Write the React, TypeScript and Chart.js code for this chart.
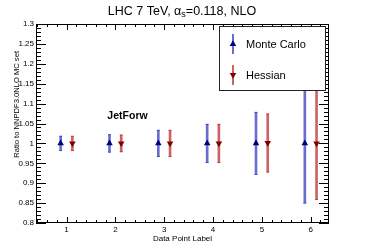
import React, { useEffect, useRef } from 'react';
import { Chart, registerables } from 'chart.js';

Chart.register(...registerables);

const categories = [1, 2, 3, 4, 5, 6];
const mcCentral = [1.0, 1.0, 1.0, 1.0, 1.0, 1.0];
const mcError = [0.018, 0.022, 0.033, 0.048, 0.078, 0.15];
const hessCentral = [1.0, 1.0, 1.0, 1.0, 1.001, 1.0];
const hessError = [0.018, 0.021, 0.033, 0.048, 0.073, 0.141];
const xTickValues = [1, 2, 3, 4, 5, 6];
const yTickValues = [0.8, 0.85, 0.9, 0.95, 1.0, 1.05, 1.1, 1.15, 1.2, 1.25, 1.3];
const yTickLabels = ['0.8', '0.85', '0.9', '0.95', '1', '1.05', '1.1', '1.15', '1.2', '1.25', '1.3'];
const seriesNames = ['Monte Carlo', 'Hessian'];
const titleParts = ['LHC 7 TeV, \u03b1', 's', '=0.118, NLO'];
const yAxisTitle = 'Ratio to NNPDF3.0NLO MC set';
const xAxisTitle = 'Data Point Label';
const setLabel = 'JetForw';

const X_MIN = 0.375;
const X_MAX = 6.375;
const Y_MIN = 0.8;
const Y_MAX = 1.3;
const OFFSET = 0.12;
const FONT = '"Liberation Sans", Arial, Helvetica, sans-serif';

const BLUE_BAR = 'rgba(50,50,190,0.72)';
const BLUE_MARK = '#000080';
const RED_BAR = 'rgba(185,40,40,0.72)';
const RED_MARK = '#800000';

function drawTri(ctx: CanvasRenderingContext2D, x: number, y: number, r: number, down: boolean, color: string) {
  ctx.save();
  ctx.fillStyle = color;
  ctx.beginPath();
  const s = down ? -1 : 1;
  ctx.moveTo(x, y - s * r);
  ctx.lineTo(x - r * 0.866, y + s * r * 0.5);
  ctx.lineTo(x + r * 0.866, y + s * r * 0.5);
  ctx.closePath();
  ctx.fill();
  ctx.restore();
}

const decorPlugin = {
  id: 'decor',
  afterDraw(chart: any) {
    const ctx: CanvasRenderingContext2D = chart.ctx;
    const xs = chart.scales.x;
    const ys = chart.scales.y;
    const { left, right, top, bottom } = chart.chartArea;
    ctx.save();
    ctx.strokeStyle = '#000';
    ctx.lineWidth = 1;
    ctx.strokeRect(left + 0.5, top + 0.5, right - left - 1, bottom - top - 1);
    const yStep = (yTickValues[1] - yTickValues[0]) / 5;
    const nY = Math.round((Y_MAX - Y_MIN) / yStep);
    ctx.beginPath();
    for (let k = 0; k <= nY; k++) {
      const v = Y_MIN + k * yStep;
      const py = Math.round(ys.getPixelForValue(v)) + 0.5;
      const len = k % 5 === 0 ? 10 : 5;
      ctx.moveTo(left, py);
      ctx.lineTo(left + len, py);
      ctx.moveTo(right, py);
      ctx.lineTo(right - len, py);
    }
    const xStep = 0.2;
    for (let v = Math.ceil(X_MIN / xStep) * xStep; v <= X_MAX + 1e-9; v += xStep) {
      const px = Math.round(xs.getPixelForValue(v)) + 0.5;
      const isMajor = Math.abs(v - Math.round(v)) < 1e-6;
      const len = isMajor ? 6 : 3;
      ctx.moveTo(px, bottom);
      ctx.lineTo(px, bottom - len);
      ctx.moveTo(px, top);
      ctx.lineTo(px, top + len);
    }
    ctx.stroke();

    ctx.fillStyle = '#000';
    ctx.textBaseline = 'alphabetic';
    const big = `12.5px ${FONT}`;
    const small = `9px ${FONT}`;
    ctx.font = big;
    const w0 = ctx.measureText(titleParts[0]).width;
    const w2 = ctx.measureText(titleParts[2]).width;
    ctx.font = small;
    const w1 = ctx.measureText(titleParts[1]).width;
    let tx = 182 - (w0 + w1 + w2) / 2;
    ctx.font = big;
    ctx.textAlign = 'left';
    ctx.fillText(titleParts[0], tx, 14.5);
    tx += w0;
    ctx.font = small;
    ctx.fillText(titleParts[1], tx, 17);
    tx += w1;
    ctx.font = big;
    ctx.fillText(titleParts[2], tx, 14.5);

    ctx.font = `8px ${FONT}`;
    ctx.textAlign = 'center';
    ctx.textBaseline = 'middle';
    ctx.fillText(xAxisTitle, (left + right) / 2, 238.5);

    ctx.save();
    ctx.translate(17, 51);
    ctx.rotate(-Math.PI / 2);
    ctx.font = `7.6px ${FONT}`;
    ctx.textAlign = 'right';
    ctx.textBaseline = 'middle';
    ctx.fillText(yAxisTitle, 0, 0);
    ctx.restore();

    ctx.font = `bold 10.5px ${FONT}`;
    ctx.textAlign = 'center';
    ctx.textBaseline = 'middle';
    ctx.fillText(setLabel, 127.5, 116.5);

    const lx = 219, ly = 26, lw = 107, lh = 65;
    ctx.fillStyle = '#fff';
    ctx.fillRect(lx, ly, lw, lh);
    ctx.strokeStyle = '#222';
    ctx.strokeRect(lx + 0.5, ly + 0.5, lw - 1, lh - 1);
    const rows = [
      { name: seriesNames[0], y: 44, bar: BLUE_BAR, mark: BLUE_MARK, down: false },
      { name: seriesNames[1], y: 75, bar: RED_BAR, mark: RED_MARK, down: true },
    ];
    rows.forEach((r) => {
      ctx.strokeStyle = r.bar;
      ctx.lineWidth = 2;
      ctx.beginPath();
      ctx.moveTo(233, r.y - 10);
      ctx.lineTo(233, r.y + 10);
      ctx.stroke();
      drawTri(ctx, 233, r.y, 3.8, r.down, r.mark);
      ctx.fillStyle = '#000';
      ctx.font = `11px ${FONT}`;
      ctx.textAlign = 'left';
      ctx.textBaseline = 'middle';
      ctx.fillText(r.name, 246, r.y + 0.5);
    });
    ctx.restore();
  },
};

export default function App() {
  const ref = useRef<HTMLCanvasElement | null>(null);
  useEffect(() => {
    document.body.style.margin = '0';
    const canvas = ref.current;
    if (!canvas) return;
    const mcBars = categories.map((c, i) => ({ x: c - OFFSET, y: [mcCentral[i] - mcError[i], mcCentral[i] + mcError[i]] }));
    const hsBars = categories.map((c, i) => ({ x: c + OFFSET, y: [hessCentral[i] - hessError[i], hessCentral[i] + hessError[i]] }));
    const mcCaps = categories.flatMap((c, i) => [
      { x: c - OFFSET, y: mcCentral[i] - mcError[i] },
      { x: c - OFFSET, y: mcCentral[i] + mcError[i] },
    ]);
    const hsCaps = categories.flatMap((c, i) => [
      { x: c + OFFSET, y: hessCentral[i] - hessError[i] },
      { x: c + OFFSET, y: hessCentral[i] + hessError[i] },
    ]);
    const mcPts = categories.map((c, i) => ({ x: c - OFFSET, y: mcCentral[i] }));
    const hsPts = categories.map((c, i) => ({ x: c + OFFSET, y: hessCentral[i] }));

    const chart = new Chart(canvas, {
      type: 'scatter',
      data: {
        datasets: [
          { type: 'scatter', label: seriesNames[0], data: mcPts, pointStyle: 'triangle', pointRadius: 3.8, backgroundColor: BLUE_MARK, borderColor: BLUE_MARK, borderWidth: 0, order: 0 } as any,
          { type: 'scatter', label: seriesNames[1], data: hsPts, pointStyle: 'triangle', rotation: 180, pointRadius: 3.8, backgroundColor: RED_MARK, borderColor: RED_MARK, borderWidth: 0, order: 0 } as any,
          { type: 'scatter', label: 'mc caps', data: mcCaps, pointStyle: 'line', pointRadius: 1.5, borderColor: BLUE_BAR, borderWidth: 1, order: 1 } as any,
          { type: 'scatter', label: 'hs caps', data: hsCaps, pointStyle: 'line', pointRadius: 1.5, borderColor: RED_BAR, borderWidth: 1, order: 1 } as any,
          { type: 'bar', label: 'mc err', data: mcBars, backgroundColor: BLUE_BAR, borderWidth: 0, barThickness: 2, grouped: false, order: 2 } as any,
          { type: 'bar', label: 'hs err', data: hsBars, backgroundColor: RED_BAR, borderWidth: 0, barThickness: 2, grouped: false, order: 2 } as any,
        ],
      },
      options: {
        animation: false,
        responsive: false,
        maintainAspectRatio: false,
        layout: { padding: { left: 0, right: 37, top: 24, bottom: 0 } },
        plugins: { legend: { display: false }, tooltip: { enabled: false }, title: { display: false } },
        scales: {
          x: {
            type: 'linear',
            min: X_MIN,
            max: X_MAX,
            offset: false,
            grid: { display: false, drawTicks: false },
            border: { display: false },
            afterBuildTicks: (s: any) => { s.ticks = xTickValues.map((v) => ({ value: v })); },
            afterFit: (s: any) => { s.height = 25; },
            ticks: { autoSkip: false, maxRotation: 0, padding: 2, color: '#000', font: { family: FONT, size: 8 }, callback: (v: any) => String(v) },
          },
          y: {
            type: 'linear',
            min: Y_MIN,
            max: Y_MAX,
            grid: { display: false, drawTicks: false },
            border: { display: false },
            afterBuildTicks: (s: any) => { s.ticks = yTickValues.map((v) => ({ value: v })); },
            afterFit: (s: any) => { s.width = 36; },
            ticks: { autoSkip: false, padding: 2, color: '#000', font: { family: FONT, size: 8 }, callback: (_v: any, i: number) => yTickLabels[i] },
          },
        },
      } as any,
      plugins: [decorPlugin],
    });
    return () => chart.destroy();
  }, []);
  return (
    <div style={{ width: 366, height: 248 }}>
      <canvas ref={ref} width={366} height={248} style={{ display: 'block' }} />
    </div>
  );
}
